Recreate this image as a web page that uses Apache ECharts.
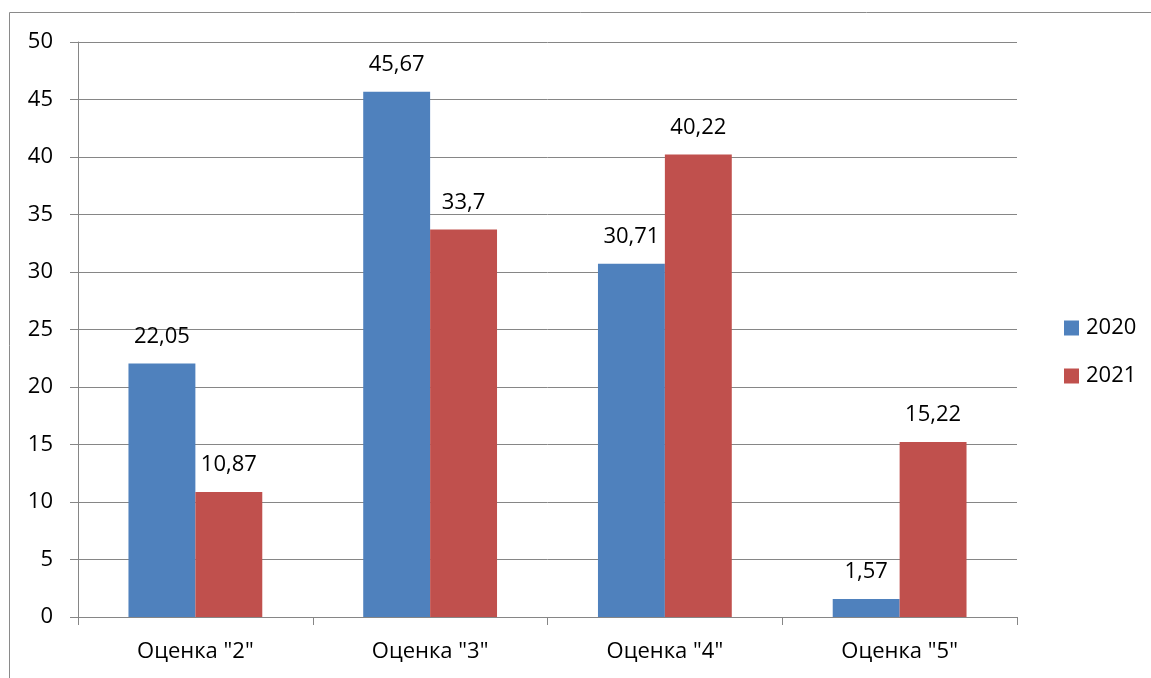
<!DOCTYPE html>
<html><head><meta charset="utf-8">
<script src="https://cdn.jsdelivr.net/npm/echarts@6/dist/echarts.min.js"></script>
<style>html,body{margin:0;padding:0;background:#fff}#c{width:1151px;height:678px}</style>
</head><body><div id="c"></div>
<script>
const categories = ['Оценка "2"', 'Оценка "3"', 'Оценка "4"', 'Оценка "5"'];
const values2020 = [22.05, 45.67, 30.71, 1.57];
const values2021 = [10.87, 33.7, 40.22, 15.22];
const seriesNames = ['2020', '2021'];
const yTicks = {min: 0, max: 50, interval: 5};

const font = 'Open Sans';
const fmt = p => String(p.value).replace('.', ',');
const chart = echarts.init(document.getElementById('c'), null, {renderer: 'canvas'});
chart.setOption({
  animation: false,
  textStyle: {fontFamily: font},
  graphic: [{type: 'rect', shape: {x: 9.5, y: 12.5, width: 1400, height: 1000},
    style: {fill: 'none', stroke: '#8a8a8a', lineWidth: 1}, silent: true}],
  grid: {left: 78, right: 134, top: 42, bottom: 61},
  legend: {orient: 'vertical', left: 1059, top: 312, itemWidth: 15, itemHeight: 15, itemGap: 26,
    icon: 'rect', textStyle: {fontFamily: font, fontSize: 22, color: '#000', padding: [0, 0, 0, 2]}, data: seriesNames},
  xAxis: {type: 'category', data: categories,
    axisLine: {lineStyle: {color: '#868686'}},
    axisTick: {show: true, length: 8, lineStyle: {color: '#868686'}},
    axisLabel: {margin: 24, fontFamily: font, fontSize: 22, color: '#000'}},
  yAxis: {type: 'value', min: yTicks.min, max: yTicks.max, interval: yTicks.interval,
    axisLine: {show: true, lineStyle: {color: '#868686'}},
    axisTick: {show: true, length: 8, lineStyle: {color: '#868686'}},
    splitLine: {lineStyle: {color: '#868686'}},
    axisLabel: {margin: 25, fontFamily: font, fontSize: 22, color: '#000'}},
  series: [
    {name: seriesNames[0], type: 'bar', data: values2020, barGap: '0%', barCategoryGap: '43%',
      itemStyle: {color: '#4F81BD'},
      label: {show: true, position: 'top', distance: 16, formatter: fmt, fontFamily: font, fontSize: 22, color: '#000'}},
    {name: seriesNames[1], type: 'bar', data: values2021, barGap: '0%', barCategoryGap: '43%',
      itemStyle: {color: '#C0504D'},
      label: {show: true, position: 'top', distance: 16, formatter: fmt, fontFamily: font, fontSize: 22, color: '#000'}}
  ]
});
</script></body></html>
